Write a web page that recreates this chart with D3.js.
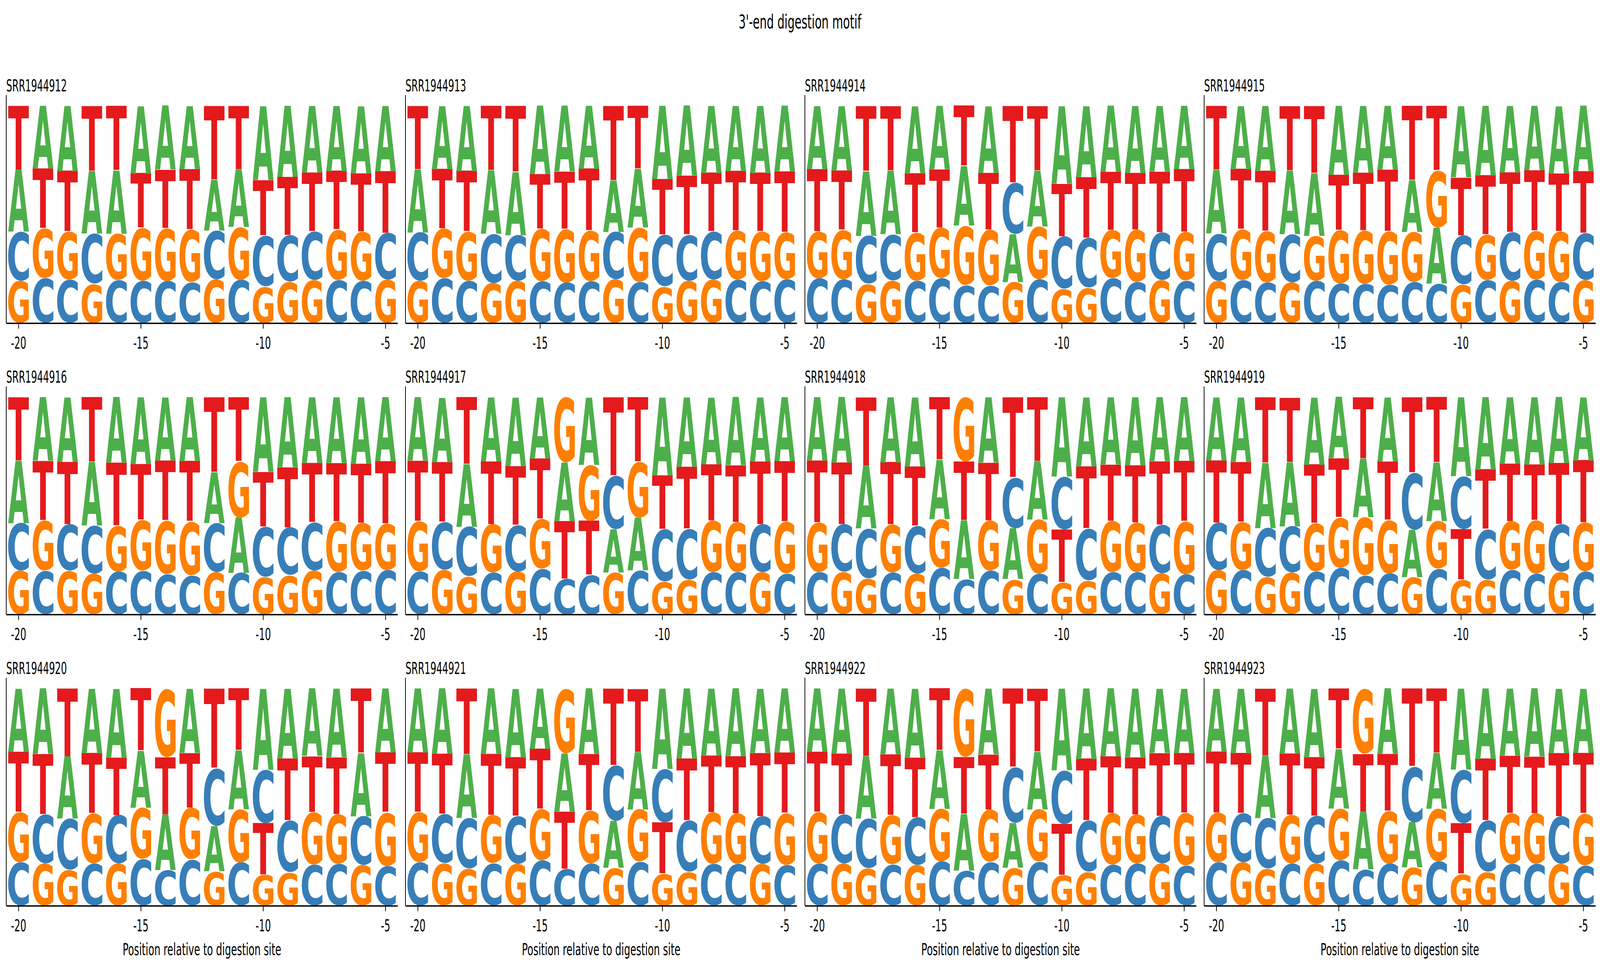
<!DOCTYPE html>
<html><head><meta charset="utf-8">
<script src="https://cdn.jsdelivr.net/npm/d3@7"></script>
<style>html,body{margin:0;padding:0;background:#fff;overflow:hidden}svg{display:block}</style>
</head><body>
<svg id="chart"></svg>
<script>
// ---------------- data ----------------
const positions = [-20,-19,-18,-17,-16,-15,-14,-13,-12,-11,-10,-9,-8,-7,-6,-5];
const tickValues = [-20,-15,-10,-5];
const letters = ["A","C","G","T"];
const samples = ["SRR1944912","SRR1944913","SRR1944914","SRR1944915","SRR1944916","SRR1944917","SRR1944918","SRR1944919","SRR1944920","SRR1944921","SRR1944922","SRR1944923"];
const chartTitle = "3'-end digestion motif";
const xLabel = "Position relative to digestion site";

const a912 = [.285,.289,.299,.288,.290,.310,.294,.291,.235,.265,.340,.327,.306,.299,.310,.299];
const c912 = [.227,.206,.200,.231,.198,.195,.194,.188,.223,.199,.235,.214,.224,.198,.194,.216];
const g912 = [.194,.230,.221,.181,.215,.244,.244,.242,.202,.244,.169,.191,.198,.232,.227,.199];
const t912 = [.294,.276,.280,.299,.297,.251,.269,.279,.340,.292,.255,.268,.272,.271,.268,.285];

const a913 = [.290,.291,.299,.293,.290,.315,.301,.290,.236,.269,.338,.322,.308,.299,.308,.302];
const c913 = [.223,.206,.195,.227,.212,.192,.187,.192,.218,.190,.239,.213,.222,.199,.192,.202];
const g913 = [.195,.228,.226,.184,.194,.242,.247,.235,.202,.252,.168,.194,.199,.227,.229,.216];
const t913 = [.292,.275,.280,.296,.304,.252,.265,.284,.344,.290,.256,.272,.271,.275,.271,.280];

const a914 = [.291,.298,.298,.293,.310,.292,.275,.307,.220,.257,.357,.328,.304,.308,.303,.292];
const c914 = [.206,.202,.221,.213,.195,.207,.175,.173,.237,.202,.241,.228,.207,.189,.218,.196];
const g914 = [.216,.226,.181,.196,.222,.233,.273,.258,.189,.243,.158,.163,.221,.241,.198,.223];
const t914 = [.288,.274,.300,.298,.273,.268,.277,.261,.354,.298,.243,.281,.268,.261,.281,.289];

const a915 = [.293,.291,.300,.293,.289,.318,.307,.294,.238,.257,.328,.320,.307,.298,.310,.301];
const c915 = [.217,.198,.187,.222,.195,.183,.182,.177,.189,.182,.226,.198,.223,.200,.189,.216];
const g915 = [.195,.234,.236,.187,.207,.245,.245,.246,.231,.264,.178,.209,.195,.225,.234,.198];
const t915 = [.295,.278,.277,.298,.309,.254,.266,.283,.343,.297,.267,.273,.276,.278,.266,.285];

const a916 = [.288,.293,.298,.292,.301,.307,.291,.294,.235,.254,.343,.323,.303,.303,.307,.296];
const c916 = [.218,.201,.214,.221,.197,.201,.186,.181,.226,.192,.232,.218,.221,.194,.201,.204];
const g916 = [.202,.232,.201,.188,.211,.235,.247,.247,.194,.259,.172,.181,.202,.235,.219,.214];
const t916 = [.292,.274,.287,.300,.290,.257,.276,.278,.345,.295,.253,.278,.274,.268,.273,.287];

const a917 = [.293,.298,.288,.296,.316,.282,.268,.309,.200,.243,.359,.319,.307,.313,.296,.294];
const c917 = [.197,.220,.228,.192,.214,.210,.165,.182,.246,.202,.242,.235,.194,.194,.221,.188];
const g917 = [.232,.205,.176,.223,.197,.230,.301,.259,.193,.258,.151,.160,.239,.231,.194,.239];
const t917 = [.278,.276,.308,.289,.272,.279,.266,.249,.361,.297,.247,.286,.259,.262,.289,.279];

const a918 = [.293,.301,.288,.300,.319,.274,.269,.300,.234,.268,.365,.319,.309,.314,.295,.295];
const c918 = [.194,.219,.230,.192,.219,.214,.164,.202,.235,.188,.244,.240,.194,.194,.224,.184];
const g918 = [.229,.196,.166,.222,.188,.224,.297,.231,.162,.250,.149,.156,.237,.229,.189,.244];
const t918 = [.284,.284,.316,.287,.274,.288,.271,.267,.369,.294,.242,.285,.260,.263,.292,.277];

const a919 = [.290,.298,.299,.294,.310,.283,.268,.296,.218,.270,.363,.334,.305,.309,.305,.290];
const c919 = [.218,.204,.227,.214,.198,.214,.181,.189,.263,.210,.243,.232,.205,.188,.218,.197];
const g919 = [.204,.222,.172,.192,.222,.232,.267,.247,.172,.220,.160,.160,.224,.246,.196,.226];
const t919 = [.288,.276,.302,.298,.270,.272,.282,.268,.347,.301,.234,.275,.266,.258,.282,.287];

const a920 = [.291,.301,.287,.298,.316,.263,.255,.296,.209,.272,.373,.321,.311,.316,.291,.294];
const c920 = [.199,.226,.236,.194,.223,.215,.165,.213,.266,.199,.245,.239,.189,.192,.226,.183];
const g920 = [.231,.194,.165,.231,.194,.236,.315,.238,.159,.245,.143,.154,.242,.230,.187,.247];
const t920 = [.279,.279,.313,.277,.266,.287,.264,.252,.366,.284,.238,.286,.258,.262,.296,.276];

const a921 = [.294,.301,.293,.301,.317,.279,.266,.301,.216,.264,.370,.324,.309,.313,.296,.295];
const c921 = [.199,.226,.233,.196,.220,.209,.170,.196,.255,.202,.246,.236,.192,.192,.218,.187];
const g921 = [.231,.196,.170,.221,.192,.236,.298,.243,.175,.242,.148,.156,.238,.233,.192,.240];
const t921 = [.276,.277,.304,.282,.270,.277,.265,.260,.354,.291,.236,.285,.262,.263,.293,.278];

const a922 = [.293,.299,.288,.303,.319,.269,.260,.303,.207,.265,.376,.325,.313,.315,.296,.298];
const c922 = [.194,.226,.229,.191,.218,.204,.163,.201,.257,.202,.247,.236,.189,.194,.218,.185];
const g922 = [.236,.194,.172,.226,.188,.243,.315,.241,.175,.242,.141,.156,.238,.226,.194,.242];
const t922 = [.277,.281,.311,.280,.275,.284,.262,.255,.362,.290,.236,.284,.261,.264,.291,.275];

const a923 = [.291,.298,.288,.300,.317,.275,.265,.301,.208,.257,.373,.325,.309,.313,.297,.295];
const c923 = [.199,.226,.233,.194,.218,.209,.168,.194,.257,.204,.247,.236,.192,.192,.218,.185];
const g923 = [.228,.199,.170,.223,.194,.238,.299,.243,.177,.243,.146,.156,.235,.233,.192,.240];
const t923 = [.282,.277,.309,.283,.270,.279,.267,.262,.359,.296,.234,.284,.264,.262,.292,.278];

const sampleData = [
  [a912,c912,g912,t912],[a913,c913,g913,t913],[a914,c914,g914,t914],[a915,c915,g915,t915],
  [a916,c916,g916,t916],[a917,c917,g917,t917],[a918,c918,g918,t918],[a919,c919,g919,t919],
  [a920,c920,g920,t920],[a921,c921,g921,t921],[a922,c922,g922,t922],[a923,c923,g923,t923]
];

// ---------------- style ----------------
const colors = {A:"#4daf4a", C:"#377eb8", G:"#ff7f00", T:"#e41a1c"};
const FONT = "'DejaVu Sans', sans-serif";
const GLYPH_FAMILY = "DejaVu Sans";
const GLYPH_FONT_SIZE = 200;
const W = 7170, Hh = 2484;

function draw(){
  // the figure fills the browser window (7170 x 2484 when opened at that size)
  const vw = window.innerWidth || W;
  const vh = window.innerHeight || Hh;
  const svg = d3.select("#chart")
    .attr("viewBox", `0 0 ${W} ${Hh}`)
    .attr("preserveAspectRatio", "none")
    .attr("width", vw)
    .attr("height", vh);
  svg.append("rect").attr("width", W).attr("height", Hh).attr("fill", "#fff");

  const panelW = 1754, panelH = 584;
  const panelLefts = [28, 1817, 3607, 5396];
  const panelTops = [243.5, 989.5, 1735.5];

  // glyph ink metrics (tight bounds, like logomaker's stretched glyphs)
  const ctx = document.createElement("canvas").getContext("2d");
  ctx.font = `bold ${GLYPH_FONT_SIZE}px '${GLYPH_FAMILY}'`;
  const metrics = {};
  letters.forEach(l => {
    const m = ctx.measureText(l);
    metrics[l] = {L: m.actualBoundingBoxLeft, R: m.actualBoundingBoxRight,
                  asc: m.actualBoundingBoxAscent, desc: m.actualBoundingBoxDescent};
  });

  svg.append("text")
    .attr("x", 3585).attr("y", 73)
    .attr("text-anchor","middle")
    .attr("font-family", FONT).attr("font-size", 50)
    .text(chartTitle);

  samples.forEach((name, i) => {
    const row = Math.floor(i/4), col = i % 4;
    const g = svg.append("g").attr("transform", `translate(${panelLefts[col]},${panelTops[row]})`);
    const x = d3.scaleLinear().domain([-20.5, -4.5]).range([0, panelW]);
    const y = d3.scaleLinear().domain([0, 1.05]).range([panelH, 0]);
    const unit = x(1) - x(0);
    const glyphW = 0.85 * unit;

    const cols = sampleData[i];
    positions.forEach((p, j) => {
      const vals = letters.map((l, k) => ({l, v: cols[k][j]}));
      vals.sort((a, b) => a.v - b.v); // smallest at bottom, biggest on top
      let cum = 0;
      vals.forEach(d => {
        const yTop = y(cum + d.v), yBot = y(cum);
        const H = yBot - yTop;
        const x0 = x(p) - glyphW/2;
        const m = metrics[d.l];
        const w = m.L + m.R, h = m.asc + m.desc;
        g.append("text")
          .attr("transform", `translate(${x0},${yTop}) scale(${glyphW/w},${H/h}) translate(${m.L},${m.asc})`)
          .attr("font-family", `'${GLYPH_FAMILY}'`)
          .attr("font-weight", "bold")
          .attr("font-size", GLYPH_FONT_SIZE)
          .attr("fill", colors[d.l])
          .text(d.l);
        cum += d.v;
      });
    });

    // axes: bottom spine with ticks, left spine without ticks
    const ax = g.append("g").attr("transform", `translate(0,${panelH})`)
      .call(d3.axisBottom(x).tickValues(tickValues).tickFormat(d => String(d)).tickSize(14).tickSizeOuter(0));
    ax.select(".domain").attr("stroke", "#000").attr("stroke-width", 3.3);
    ax.selectAll(".tick line").attr("stroke", "#000").attr("stroke-width", 3.3);
    ax.selectAll(".tick text")
      .attr("y", 66).attr("dy", null)
      .attr("font-family", FONT).attr("font-size", 42).attr("fill", "#000");

    g.append("line").attr("x1", 0).attr("x2", 0).attr("y1", 0).attr("y2", panelH)
      .attr("stroke", "#000").attr("stroke-width", 3.3);

    g.append("text").attr("x", 0).attr("y", -10)
      .attr("font-family", FONT).attr("font-size", 42).text(name);

    if (row === 2) {
      g.append("text").attr("x", panelW/2).attr("y", panelH + 127)
        .attr("text-anchor", "middle")
        .attr("font-family", FONT).attr("font-size", 43.5).text(xLabel);
    }
  });
}

if (document.fonts && document.fonts.load) {
  Promise.all([
    document.fonts.load(`bold ${GLYPH_FONT_SIZE}px '${GLYPH_FAMILY}'`),
    document.fonts.load(`42px 'DejaVu Sans'`)
  ]).then(draw, draw);
} else { draw(); }
</script>
</body></html>
